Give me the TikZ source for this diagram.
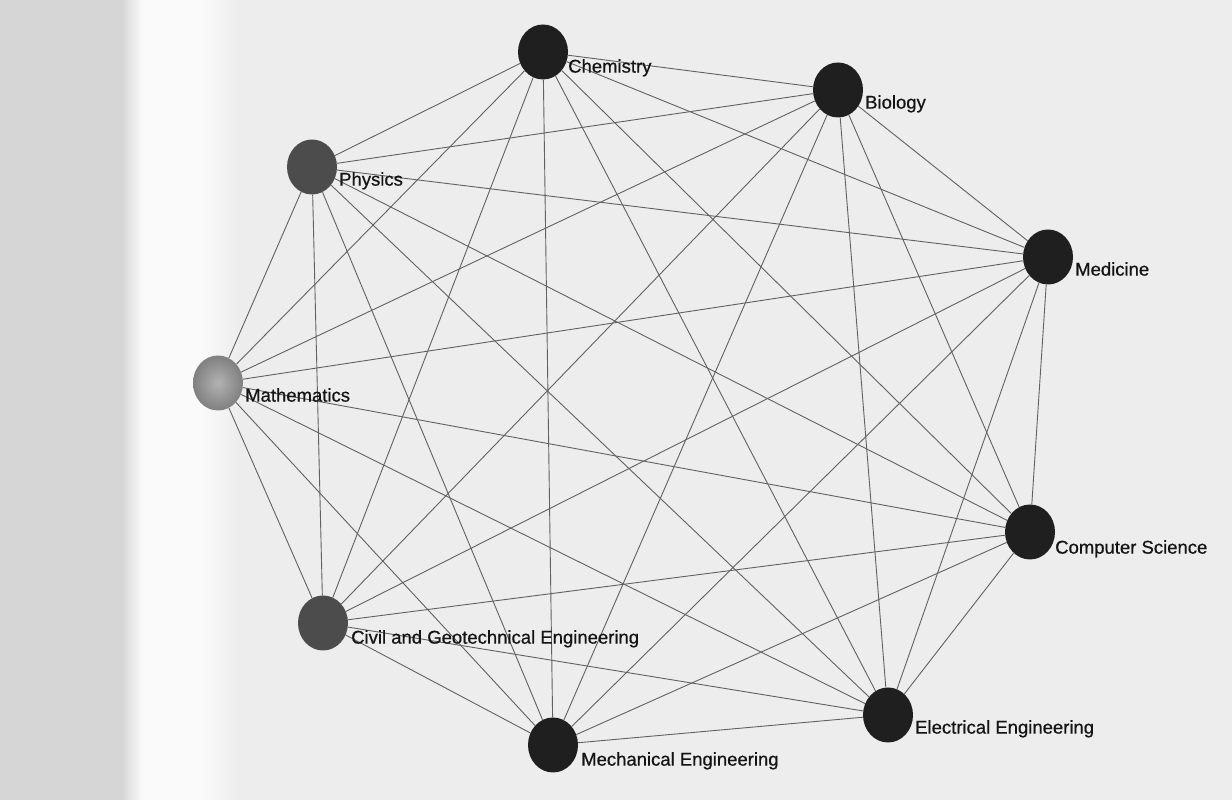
\documentclass[tikz,border=0pt]{standalone}
\usepackage{fontspec}
\setmainfont{Liberation Sans}
\newfontfamily\lblfont[FakeBold=0.6]{Liberation Sans}
\usetikzlibrary{shapes.geometric}
\begin{document}
\begin{tikzpicture}[x=1pt,y=1pt,
  vert/.style={ellipse, minimum width=50pt, minimum height=55pt, inner sep=0pt, draw=none},
  dark/.style={vert, fill=black!88},
  midgray/.style={vert, fill=black!70},
  lightball/.style={vert, inner color=black!30, outer color=black!50},
  lbl/.style={anchor=mid west, inner sep=0pt, font=\lblfont\fontsize{18.5}{20}\selectfont, text=black!92},
  edge/.style={draw=black!62, line width=0.9pt}]
% background (scanned page)
\fill[black!7] (0,0) rectangle (1232,800);
\fill[black!16] (0,0) rectangle (122,800);
\shade[left color=black!16, right color=black!2] (122,0) rectangle (142,800);
\fill[black!2] (142,0) rectangle (200,800);
\shade[left color=black!2, right color=black!7] (200,0) rectangle (240,800);
\useasboundingbox (0,0) rectangle (1232,800);
% vertices
\node[dark]      (chem) at (543,748) {};
\node[dark]      (bio)  at (838,710) {};
\node[midgray]   (phys) at (312,633) {};
\node[dark]      (med)  at (1048,543) {};
\node[lightball] (math) at (218,417) {};
\node[dark]      (cs)   at (1030,268) {};
\node[midgray]   (civ)  at (323,177) {};
\node[dark]      (elec) at (888,85) {};
\node[dark]      (mech) at (553,55) {};
% edges (complete graph)
\foreach \a [count=\i] in {chem,bio,med,cs,elec,mech,civ,math,phys}{
  \foreach \b [count=\j] in {chem,bio,med,cs,elec,mech,civ,math,phys}{
    \ifnum\j>\i \draw[edge] (\a) -- (\b); \fi
  }
}
% labels
\node[lbl] (chemL) at (568,730) {Chemistry};
\node[lbl] (bioL)  at (865,694) {Biology};
\node[lbl] (physL) at (339,617) {Physics};
\node[lbl] (mathL) at (245,401) {Mathematics};
\node[lbl] (civL)  at (351,159) {Civil and Geotechnical Engineering};
\node[lbl] (elecL) at (915,69)  {Electrical Engineering};
\node[lbl] (medL)  at (1075,527) {Medicine};
\node[lbl] (csL)   at (1055,249) {Computer Science};
\node[lbl] (mechL) at (581,37)  {Mechanical Engineering};
\end{tikzpicture}
\end{document}
